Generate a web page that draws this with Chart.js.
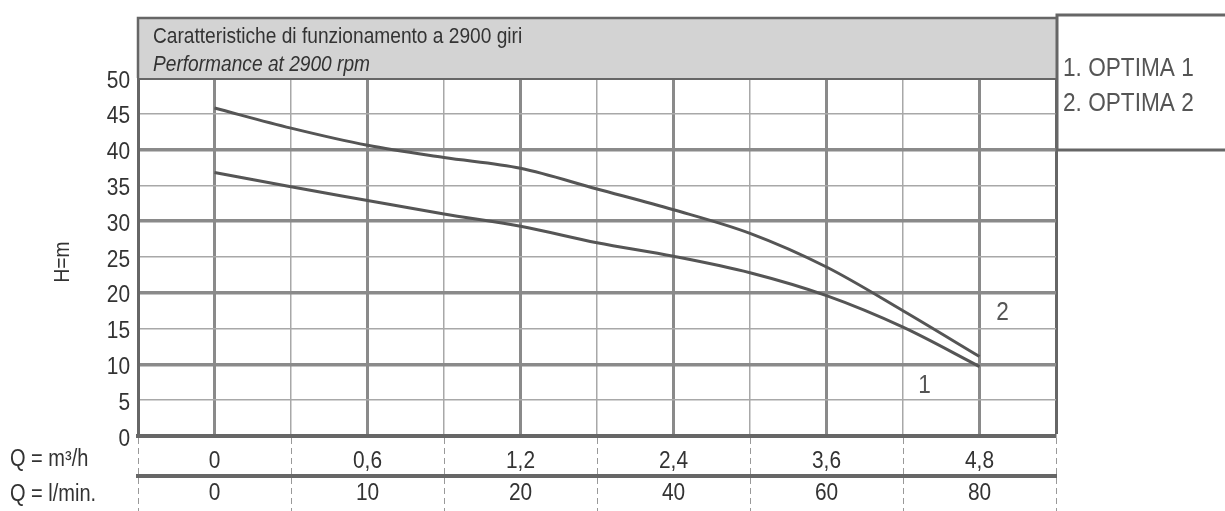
<!DOCTYPE html>
<html>
<head>
<meta charset="utf-8">
<title>Performance at 2900 rpm</title>
<script src="https://cdn.jsdelivr.net/npm/chart.js@4.4.1/dist/chart.umd.min.js"></script>
<style>
    html, body { margin: 0; padding: 0; background: #fff; }
    canvas { display: block; }
</style>
</head>
<body>
<canvas id="curveChart" width="1225" height="511"></canvas>
<script>
// valori
const qM3h = ['0', '0,6', '1,2', '2,4', '3,6', '4,8'];
const qLmin = ['0', '10', '20', '40', '60', '80'];
const curvePos = [0, 0.5, 1, 1.5, 2, 2.5, 3, 3.5, 4, 4.5, 5];
const optima1 = [36.8, 34.8, 32.9, 31.0, 29.3, 27.0, 25.1, 22.8, 19.6, 15.2, 9.7];
const optima2 = [45.8, 43.0, 40.6, 38.9, 37.4, 34.5, 31.6, 28.3, 23.6, 17.5, 11.1];
const seriesNames = ['1. OPTIMA 1', '2. OPTIMA 2'];
const headerLines = ['Caratteristiche di funzionamento a 2900 giri', 'Performance at 2900 rpm'];
const curveTags = [{ text: '1', x: 4.64, y: 7.0 }, { text: '2', x: 5.15, y: 17.2 }];

const FONT = "'Liberation Sans', Arial, sans-serif";
const NARROW = 0.87;   // il font originale e' condensato
const DARK = '#666';
const GRID = '#8a8a8a';
const GRID_THIN = '#a8a8a8';

function toPoints(values) {
    return values.map(function (v, i) { return { x: curvePos[i], y: v }; });
}

function isWhole(v) {
    return Math.abs(v - Math.round(v)) < 1e-6;
}

function narrowText(ctx, text, x, y, font, align) {
    ctx.save();
    ctx.font = font;
    ctx.textAlign = align || 'left';
    ctx.textBaseline = 'middle';
    ctx.translate(x, y);
    ctx.scale(NARROW, 1);
    ctx.fillText(text, 0, 0);
    ctx.restore();
}

// intestazione, legenda, etichette degli assi e tabella sotto il grafico
const extraPlugin = {
    id: 'extra',
    afterDraw: function (chart) {
        var ctx = chart.ctx;
        var area = chart.chartArea;
        var xs = chart.scales.x;
        var ys = chart.scales.y;
        ctx.save();

        // intestazione grigia
        ctx.fillStyle = '#d3d3d3';
        ctx.fillRect(area.left, 18, area.right - area.left, area.top - 18);
        ctx.strokeStyle = DARK;
        ctx.lineWidth = 2.5;
        ctx.beginPath();
        ctx.moveTo(area.left, area.top);
        ctx.lineTo(area.left, 18);
        ctx.lineTo(area.right, 18);
        ctx.stroke();
        ctx.fillStyle = '#333';
        narrowText(ctx, headerLines[0], area.left + 15, 37, '22px ' + FONT);
        narrowText(ctx, headerLines[1], area.left + 15, 65, 'italic 22px ' + FONT);

        // riquadro legenda
        ctx.strokeStyle = DARK;
        ctx.lineWidth = 3;
        ctx.beginPath();
        ctx.moveTo(1230, 15);
        ctx.lineTo(area.right + 1, 15);
        ctx.lineTo(area.right + 1, 150);
        ctx.lineTo(1230, 150);
        ctx.stroke();
        ctx.fillStyle = '#555';
        seriesNames.forEach(function (name, i) {
            narrowText(ctx, name, area.right + 7, 69 + i * 35, '26px ' + FONT);
        });

        // linee tratteggiate della tabella
        ctx.strokeStyle = '#999';
        ctx.lineWidth = 1;
        ctx.setLineDash([6, 4]);
        for (var v = -0.5; v <= 5.5; v += 1) {
            var px = Math.round(xs.getPixelForValue(v)) + 0.5;
            ctx.beginPath();
            ctx.moveTo(px, area.bottom + 2);
            ctx.lineTo(px, 511);
            ctx.stroke();
        }
        ctx.setLineDash([]);

        // valori degli assi
        ctx.fillStyle = '#333';
        ys.ticks.forEach(function (t) {
            narrowText(ctx, String(t.value), area.left - 8, ys.getPixelForValue(t.value) + 3,
                '24px ' + FONT, 'right');
        });
        xs.ticks.forEach(function (t) {
            if (!isWhole(t.value) || t.value < 0 || t.value > 5) return;
            var i = Math.round(t.value);
            var px = xs.getPixelForValue(t.value);
            narrowText(ctx, qM3h[i], px, 461, '24px ' + FONT, 'center');
            narrowText(ctx, qLmin[i], px, 493, '24px ' + FONT, 'center');
        });

        // etichette delle righe
        narrowText(ctx, 'Q = m³/h', 10, 460, '23px ' + FONT);
        narrowText(ctx, 'Q = l/min.', 10, 495, '23px ' + FONT);

        // titolo asse y
        ctx.save();
        ctx.translate(63, 262);
        ctx.rotate(-Math.PI / 2);
        narrowText(ctx, 'H=m', 0, 0, '22px ' + FONT, 'center');
        ctx.restore();

        // numeri delle curve
        ctx.fillStyle = '#555';
        curveTags.forEach(function (t) {
            narrowText(ctx, t.text, xs.getPixelForValue(t.x), ys.getPixelForValue(t.y),
                '26px ' + FONT, 'center');
        });
        ctx.restore();
    }
};

new Chart(document.getElementById('curveChart'), {
    type: 'line',
    data: {
        datasets: [{
            label: seriesNames[0],
            data: toPoints(optima1),
            borderColor: '#555',
            borderWidth: 3,
            pointRadius: 0,
            cubicInterpolationMode: 'monotone',
            fill: false
        }, {
            label: seriesNames[1],
            data: toPoints(optima2),
            borderColor: '#555',
            borderWidth: 3,
            pointRadius: 0,
            cubicInterpolationMode: 'monotone',
            fill: false
        }]
    },
    options: {
        responsive: false,
        animation: false,
        layout: { padding: { left: 0, right: 169, top: 78, bottom: 0 } },
        plugins: {
            legend: { display: false },
            tooltip: { enabled: false }
        },
        scales: {
            x: {
                type: 'linear',
                position: 'bottom',
                min: -0.5,
                max: 5.5,
                afterFit: function (scale) { scale.height = 40; },
                ticks: { stepSize: 0.5, autoSkip: false, display: false },
                grid: {
                    drawTicks: false,
                    color: function (c) {
                        var v = c.tick.value;
                        if (v > 5.4) return DARK;
                        if (v < -0.4) return 'rgba(0,0,0,0)';
                        return isWhole(v) ? GRID : GRID_THIN;
                    },
                    lineWidth: function (c) {
                        var v = c.tick.value;
                        if (v > 5.4) return 3;
                        return isWhole(v) ? 3 : 1.5;
                    }
                },
                border: { display: true, color: DARK, width: 4 }
            },
            x2: {
                type: 'linear',
                position: 'bottom',
                min: -0.5,
                max: 5.5,
                afterFit: function (scale) { scale.height = 35; },
                ticks: { display: false },
                grid: { display: false, drawTicks: false },
                border: { display: true, color: DARK, width: 4 }
            },
            y: {
                min: 0,
                max: 50,
                afterFit: function (scale) { scale.width = 138; },
                ticks: { stepSize: 5, display: false },
                grid: {
                    drawTicks: false,
                    color: function (c) {
                        var v = c.tick.value;
                        if (v >= 50) return DARK;
                        if (v <= 0) return 'rgba(0,0,0,0)';
                        return v % 10 === 0 ? GRID : GRID_THIN;
                    },
                    lineWidth: function (c) {
                        var v = c.tick.value;
                        if (v >= 50) return 3;
                        return v % 10 === 0 ? 3.5 : 1.5;
                    }
                },
                border: { display: true, color: DARK, width: 3 }
            }
        }
    },
    plugins: [extraPlugin]
});
</script>
</body>
</html>
